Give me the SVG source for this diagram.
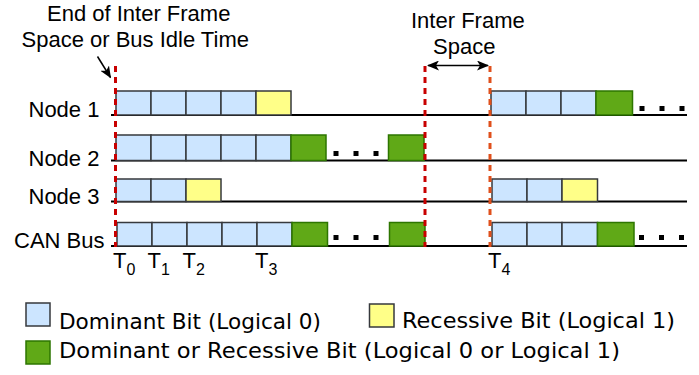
<svg xmlns="http://www.w3.org/2000/svg" width="699" height="375" viewBox="0 0 699 375">
<defs>
<style>
.lbl{font-family:"Liberation Sans",Arial,sans-serif;font-size:22px;fill:#000}
.sub{font-family:"Liberation Sans",Arial,sans-serif;font-size:16px;fill:#000}
.leg{font-family:"DejaVu Sans",Verdana,sans-serif;font-size:22px;fill:#000}
.dom{fill:#cce5ff;stroke:#36393d;stroke-width:1.5}
.rec{fill:#ffff88;stroke:#36393d;stroke-width:1.5}
.any{fill:#60a917;stroke:#2d7600;stroke-width:1.5}
.wire{stroke:#000;stroke-width:2.2;fill:none}
.dot{fill:#000}
.mark{stroke-width:3;stroke-dasharray:6 5;fill:none}
.arr{stroke:#000;stroke-width:1.5;fill:none}
</style>
<marker id="ah" viewBox="0 0 12 10" refX="11" refY="5" markerWidth="12" markerHeight="10" markerUnits="userSpaceOnUse" orient="auto-start-reverse">
<path d="M0,0 L12,5 L0,10 L3,5 z" fill="#000"/>
</marker>
</defs>
<rect width="699" height="375" fill="#fff"/>

<g id="note-end-ifs">
<text class="lbl" x="47" y="21">End of Inter Frame</text>
<text class="lbl" x="21.5" y="46.5">Space or Bus Idle Time</text>
</g>
<g id="note-ifs">
<text class="lbl" x="411" y="27.5">Inter Frame</text>
<text class="lbl" x="433" y="54">Space</text>
</g>

<g id="node1">
<text class="lbl" x="28.5" y="117">Node 1</text>
<line class="wire" x1="111" y1="115" x2="687" y2="115"/>
<rect class="dom" x="116" y="91" width="35" height="24"/>
<rect class="dom" x="151" y="91" width="35" height="24"/>
<rect class="dom" x="186" y="91" width="35" height="24"/>
<rect class="dom" x="221" y="91" width="35" height="24"/>
<rect class="rec" x="256" y="91" width="35" height="24"/>
<rect class="dom" x="491" y="91" width="35" height="24"/>
<rect class="dom" x="526" y="91" width="35" height="24"/>
<rect class="dom" x="561" y="91" width="35" height="24"/>
<rect class="any" x="596" y="91" width="36.5" height="24"/>
<rect class="dot" x="639.5" y="106" width="5" height="5"/>
<rect class="dot" x="659.5" y="106" width="5" height="5"/>
<rect class="dot" x="679.5" y="106" width="5" height="5"/>
</g>

<g id="node2">
<text class="lbl" x="28.5" y="166">Node 2</text>
<line class="wire" x1="111" y1="160.5" x2="687" y2="160.5"/>
<rect class="dom" x="116" y="135" width="35" height="25.5"/>
<rect class="dom" x="151" y="135" width="35" height="25.5"/>
<rect class="dom" x="186" y="135" width="35" height="25.5"/>
<rect class="dom" x="221" y="135" width="35" height="25.5"/>
<rect class="dom" x="256" y="135" width="35" height="25.5"/>
<rect class="any" x="291" y="135" width="35" height="25.5"/>
<rect class="dot" x="333.5" y="151" width="5" height="5"/>
<rect class="dot" x="353.5" y="151" width="5" height="5"/>
<rect class="dot" x="373.5" y="151" width="5" height="5"/>
<rect class="any" x="388.5" y="135" width="35.5" height="25.5"/>
</g>

<g id="node3">
<text class="lbl" x="28.5" y="204">Node 3</text>
<line class="wire" x1="111" y1="201.5" x2="687" y2="201.5"/>
<rect class="dom" x="116" y="179" width="35" height="22.5"/>
<rect class="dom" x="151" y="179" width="35" height="22.5"/>
<rect class="rec" x="186" y="179" width="35" height="22.5"/>
<rect class="dom" x="492" y="179" width="35" height="22.5"/>
<rect class="dom" x="527" y="179" width="35" height="22.5"/>
<rect class="rec" x="562" y="179" width="35.5" height="22.5"/>
</g>

<g id="canbus">
<text class="lbl" x="14" y="248">CAN Bus</text>
<line class="wire" x1="111" y1="246" x2="687" y2="246"/>
<rect class="dom" x="117" y="222.5" width="35" height="23.5"/>
<rect class="dom" x="152" y="222.5" width="35" height="23.5"/>
<rect class="dom" x="187" y="222.5" width="35" height="23.5"/>
<rect class="dom" x="222" y="222.5" width="35" height="23.5"/>
<rect class="dom" x="257" y="222.5" width="35" height="23.5"/>
<rect class="any" x="292" y="222.5" width="35.5" height="23.5"/>
<rect class="dot" x="333.5" y="235" width="5" height="5"/>
<rect class="dot" x="353.5" y="235" width="5" height="5"/>
<rect class="dot" x="373.5" y="235" width="5" height="5"/>
<rect class="any" x="389.5" y="222.5" width="35.5" height="23.5"/>
<rect class="dom" x="492" y="222.5" width="35" height="23.5"/>
<rect class="dom" x="527" y="222.5" width="35" height="23.5"/>
<rect class="dom" x="562" y="222.5" width="35.5" height="23.5"/>
<rect class="any" x="597.5" y="222.5" width="36.5" height="23.5"/>
<rect class="dot" x="639" y="235" width="5" height="5"/>
<rect class="dot" x="659" y="235" width="5" height="5"/>
<rect class="dot" x="679" y="235" width="5" height="5"/>
</g>

<g id="time-labels">
<text class="lbl" x="113" y="268">T<tspan class="sub" dy="7">0</tspan></text>
<text class="lbl" x="147.5" y="268">T<tspan class="sub" dy="7">1</tspan></text>
<text class="lbl" x="182.5" y="268">T<tspan class="sub" dy="7">2</tspan></text>
<text class="lbl" x="255" y="268">T<tspan class="sub" dy="7">3</tspan></text>
<text class="lbl" x="488" y="268">T<tspan class="sub" dy="7">4</tspan></text>
</g>

<g id="connectors">
<line class="mark" stroke="#c80000" x1="115.5" y1="66" x2="115.5" y2="247"/>
<line class="mark" stroke="#c80000" x1="425" y1="66" x2="425" y2="247"/>
<line class="mark" stroke="#e0501c" x1="490" y1="66" x2="490" y2="247"/>
<line class="arr" x1="428" y1="65.5" x2="488" y2="65.5" marker-start="url(#ah)" marker-end="url(#ah)"/>
<line class="arr" x1="97.5" y1="56.5" x2="110.5" y2="77.5" marker-end="url(#ah)"/>
</g>

<g id="legend">
<rect class="dom" x="26" y="303" width="24" height="23"/>
<text class="leg" x="59" y="328.5" textLength="262" lengthAdjust="spacingAndGlyphs">Dominant Bit (Logical 0)</text>
<rect class="rec" x="369.5" y="304" width="24.5" height="23"/>
<text class="leg" x="402" y="328" textLength="273" lengthAdjust="spacingAndGlyphs">Recessive Bit (Logical 1)</text>
<rect class="any" x="26" y="341" width="24" height="23"/>
<text class="leg" x="59" y="357.5" textLength="561" lengthAdjust="spacingAndGlyphs">Dominant or Recessive Bit (Logical 0 or Logical 1)</text>
</g>
</svg>
